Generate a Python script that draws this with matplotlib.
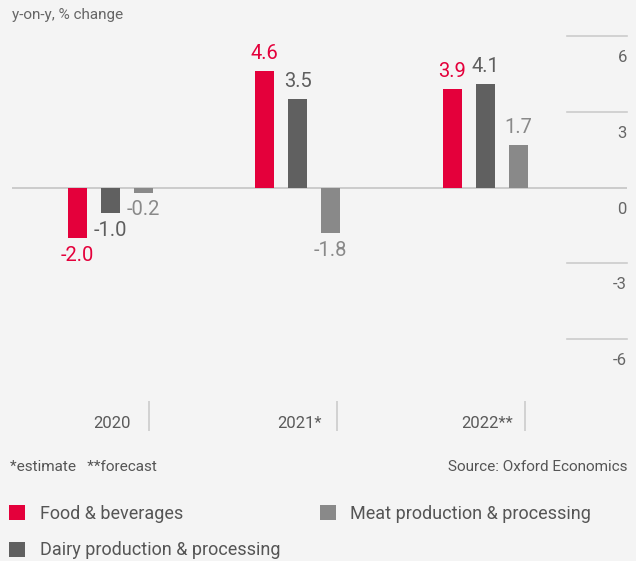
import matplotlib
matplotlib.use("Agg")
import matplotlib.pyplot as plt
import numpy as np
from matplotlib.patches import Patch

plt.rcParams['font.family'] = ['Roboto', 'DejaVu Sans']

categories = ["2020", "2021*", "2022**"]
series_names = ["Food & beverages", "Dairy production & processing", "Meat production & processing"]
food = [-2.0, 4.6, 3.9]
dairy = [-1.0, 3.5, 4.1]
meat = [-0.2, -1.8, 1.7]
yticks = [6, 3, 0, -3, -6]

colors = ["#e4003b", "#606060", "#898989"]
label_colors = ["#e4003b", "#5e5e5e", "#898989"]
bg = "#f4f4f4"
W, H = 636, 561

fig = plt.figure(figsize=(W / 100, H / 100), dpi=100, facecolor=bg)

# axes placed in pixel coordinates
left_px, right_px, top_px, bottom_px = 12, 627, 36, 431
ax = fig.add_axes([left_px / W, 1 - bottom_px / H, (right_px - left_px) / W, (bottom_px - top_px) / H])
ax.set_facecolor(bg)
ypx = 25.25
zero_px = 187.5
xpx = 187.75
center0 = 110
ax.set_ylim(-(bottom_px - zero_px) / ypx, (zero_px - top_px) / ypx)
ax.set_xlim((left_px - center0) / xpx, (right_px - center0) / xpx)
for s in ax.spines.values():
    s.set_visible(False)
ax.set_xticks([])
ax.set_yticks([])

x = np.arange(len(categories))
offset = 33 / xpx
width = 19 / xpx
all_series = [food, dairy, meat]

# grid (short segments at right) and zero line
for t in yticks:
    if t == 0:
        ax.axhline(0, color="#c8c8c8", lw=1.3, zorder=1)
    else:
        ax.axhline(t, xmin=(567 - left_px) / (right_px - left_px), xmax=1, color="#cccccc", lw=1.2, zorder=1, clip_on=False)
    ax.annotate(str(t), xy=(1, t), xycoords=("axes fraction", "data"), xytext=(0, -15.5),
                textcoords="offset points", ha="right", va="center", fontsize=12, color="#666666",
                annotation_clip=False)

handles = []
for i, (vals, c, lc, name) in enumerate(zip(all_series, colors, label_colors, series_names)):
    xs = x + (i - 1) * offset
    ax.bar(xs, vals, width=width, color=c, zorder=2)
    handles.append(Patch(facecolor=c, label=name))
    for xi, v in zip(xs, vals):
        ax.annotate(f"{v:.1f}", xy=(xi, v), xytext=(0, 12.5 if v >= 0 else -12.5),
                    textcoords="offset points", ha="center", va="center",
                    fontsize=14.5, color=lc)

# category labels and separators
cat_y = -(424 - zero_px) / ypx
for xi, cat in zip(x, categories):
    ax.text(xi + 0.01, cat_y, cat, ha="center", va="center", fontsize=12, color="#5a5a5a")
sep_top = -(401 - zero_px) / ypx
sep_bot = -(431 - zero_px) / ypx
ax.vlines(x + 0.21, sep_bot, sep_top, color="#cccccc", lw=1.2, clip_on=False)

# texts
fig.text(12 / W, 1 - 15 / H, "y-on-y, % change", ha="left", va="center", fontsize=11, color="#666666")
fig.text(10 / W, 1 - 467 / H, "*estimate   **forecast", ha="left", va="center", fontsize=11, color="#555555")
fig.text(627 / W, 1 - 467 / H, "Source: Oxford Economics", ha="right", va="center", fontsize=11, color="#555555")

leg = fig.legend(handles=[handles[0], handles[1], handles[2]], ncol=2, loc="upper left",
                 bbox_to_anchor=(9 / W, 1 - 505 / H), frameon=False, fontsize=13,
                 handlelength=0.89, handleheight=0.89, handletextpad=0.8, columnspacing=2.2,
                 labelspacing=1.02, borderpad=0, borderaxespad=0)
for t in leg.get_texts():
    t.set_color("#555555")

fig.savefig("out.png", dpi=100, facecolor=bg)
